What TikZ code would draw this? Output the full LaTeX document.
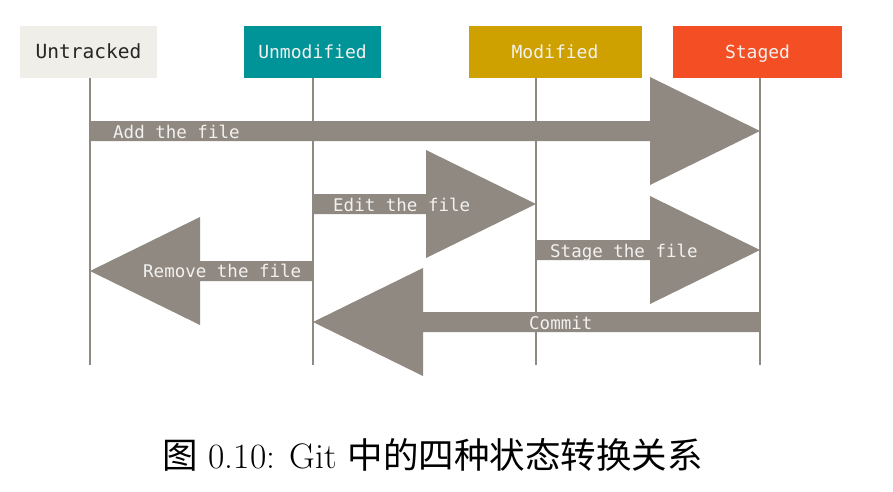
\documentclass[tikz,border=0pt]{standalone}
\usepackage{fontspec}
\setmonofont{DejaVu Sans Mono}
\newfontfamily\cjk{Noto Sans CJK SC}
\usetikzlibrary{calc}

\definecolor{untracked}{RGB}{239,238,233}
\definecolor{unmodified}{RGB}{0,148,153}
\definecolor{modified}{RGB}{207,161,0}
\definecolor{staged}{RGB}{243,78,36}
\definecolor{arrowgray}{RGB}{143,137,130}
\definecolor{labelwhite}{RGB}{242,241,238}

\tikzset{
    state/.style={minimum height=52pt, inner sep=0pt, text=labelwhite,
        font=\ttfamily\fontsize{18}{18}\selectfont, text height=13.5pt, text depth=0pt},
    lifeline/.style={draw=arrowgray, line width=1.8pt},
    arrowlabel/.style={anchor=base west, inner sep=0pt, text=labelwhite,
        font=\ttfamily\fontsize{17.5}{17.5}\selectfont},
}

% Block arrow from tail to tip
\newcommand{\blockarrow}[2]{%
    \coordinate (head base) at ($(#2)!\hlen!(#1)$);
    \fill[arrowgray] ($(#1)+(0,-\shaft)$) -- ($(head base)+(0,-\shaft)$) -- ($(head base)+(0,-\head)$)
        -- (#2) -- ($(head base)+(0,\head)$) -- ($(head base)+(0,\shaft)$) -- ($(#1)+(0,\shaft)$) -- cycle;
}

\begin{document}
\begin{tikzpicture}[x=1pt, y=-1pt]

    % Sizes of the arrows
    \def\shaft{10}   % half width of the shaft
    \def\head{54}    % half width of the head
    \def\hlen{110pt} % length of the head
    \def\ytop{78}
    \def\ybot{365}

    \path[fill=white] (0,0) rectangle (893,491);

    % States
    \node[state, fill=untracked, text=black!85, minimum width=137pt,
        font=\ttfamily\fontsize{19.5}{19.5}\selectfont] (untracked) at (88.5,52) {Untracked};
    \node[state, fill=unmodified, minimum width=137.5pt] (unmodified) at (312.5,52) {Unmodified};
    \node[state, fill=modified, minimum width=173pt] (modified) at (555,52) {Modified};
    \node[state, fill=staged, minimum width=169pt] (staged) at (757.5,52) {Staged};

    % Lifelines
    \foreach \name/\x in {untracked/90, unmodified/313, modified/536, staged/760}{
        \coordinate (\name top) at (\x,\ytop);
        \coordinate (\name bot) at (\x,\ybot);
        \draw[lifeline] (\name top) -- (\name bot);
    }

    % Transitions
    \foreach \from/\to/\y/\name in {untracked/staged/131/add, unmodified/modified/204/edit,
        modified/staged/250/stage, unmodified/untracked/271/remove, staged/unmodified/322/commit}{
        \path (\from top) ++(0,\y-\ytop) coordinate (\name tail);
        \path (\to top) ++(0,\y-\ytop) coordinate (\name tip);
        \blockarrow{\name tail}{\name tip}
    }

    \node[arrowlabel] (add label)    at (113,138) {Add the file};
    \node[arrowlabel] (edit label)   at (333,211) {Edit the file};
    \node[arrowlabel] (stage label)  at (550,257) {Stage the file};
    \node[arrowlabel] (remove label) at (143,277) {Remove the file};
    \node[arrowlabel] (commit label) at (529,329) {Commit};

    % Caption
    \node[anchor=base, inner sep=0pt, font=\fontsize{35.5}{40}\selectfont] (caption) at (432.5,468)
        {{\cjk 图} 0.10: Git {\cjk 中的四种状态转换关系}};

\end{tikzpicture}
\end{document}
